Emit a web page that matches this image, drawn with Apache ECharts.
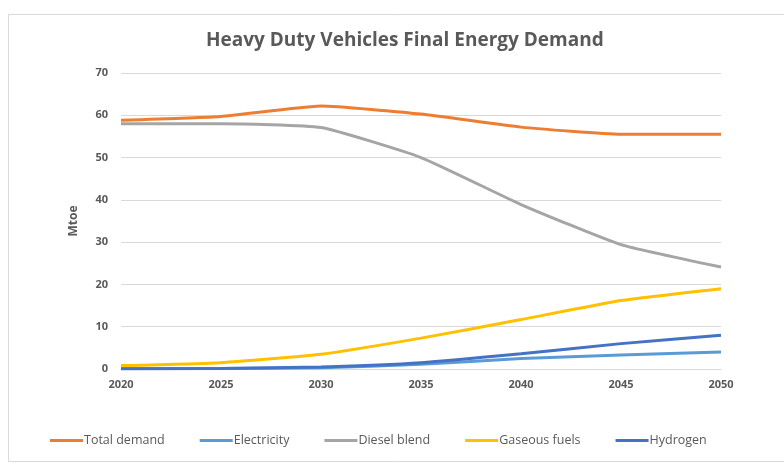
<!DOCTYPE html>
<html>
<head>
<meta charset="utf-8">
<script src="https://cdn.jsdelivr.net/npm/echarts@6/dist/echarts.min.js"></script>
<style>html,body{margin:0;padding:0;background:#fff;}#c{width:784px;height:464px;}</style>
</head>
<body>
<div id="c"></div>
<script>
const years = ['2020','2025','2030','2035','2040','2045','2050'];
const totalDemand = [58.8, 59.7, 62.2, 60.3, 57.2, 55.5, 55.5];
const electricity = [0.1, 0.1, 0.3, 1.1, 2.5, 3.3, 4.0];
const dieselBlend = [58.0, 58.0, 57.1, 50.0, 38.9, 29.4, 24.1];
const gaseousFuels = [0.8, 1.5, 3.5, 7.3, 11.7, 16.2, 19.0];
const hydrogen = [0.0, 0.1, 0.5, 1.5, 3.6, 6.0, 8.0];
const yTicks = [0, 10, 20, 30, 40, 50, 60, 70];

const seriesDefs = [
  ['Total demand', totalDemand, '#ED7D31'],
  ['Electricity', electricity, '#5B9BD5'],
  ['Diesel blend', dieselBlend, '#A5A5A5'],
  ['Gaseous fuels', gaseousFuels, '#FFC000'],
  ['Hydrogen', hydrogen, '#4472C4']
];

const chart = echarts.init(document.getElementById('c'), null, {renderer: 'canvas'});
const font = '"Open Sans", "Noto Sans", sans-serif';
chart.setOption({
  animation: false,
  backgroundColor: '#fff',
  textStyle: {fontFamily: font},
  graphic: [{
    type: 'rect', left: 6, top: 12, shape: {width: 800, height: 447},
    style: {fill: 'none', stroke: '#d9d9d9', lineWidth: 1}, silent: true
  }],
  title: {
    text: 'Heavy Duty Vehicles Final Energy Demand',
    left: 201, top: 26,
    textStyle: {fontFamily: font, fontSize: 19, fontWeight: 'bold', color: '#595959'}
  },
  legend: {
    bottom: 12, left: 45,
    itemWidth: 33, itemHeight: 3, itemGap: 35,
    icon: 'rect',
    textStyle: {fontFamily: font, fontSize: 12.5, color: '#595959', padding: [0,0,0,-4]},
    data: seriesDefs.map(s => s[0])
  },
  grid: {left: 121, right: 63, top: 73, bottom: 95},
  xAxis: {
    type: 'category', data: years, boundaryGap: false,
    axisLine: {show: true, lineStyle: {color: '#d9d9d9', width: 1}},
    axisTick: {show: false},
    axisLabel: {fontFamily: font, fontSize: 11, fontWeight: 'bold', color: '#595959', margin: 10}
  },
  yAxis: {
    type: 'value', min: yTicks[0], max: yTicks[yTicks.length-1], interval: 10,
    name: 'Mtoe', nameLocation: 'middle', nameGap: 41, nameRotate: 90,
    nameTextStyle: {fontFamily: font, fontSize: 12, fontWeight: 'bold', color: '#595959'},
    axisLine: {show: false}, axisTick: {show: false},
    splitLine: {lineStyle: {color: '#d9d9d9', width: 1}},
    axisLabel: {fontFamily: font, fontSize: 11, fontWeight: 'bold', color: '#595959', margin: 13}
  },
  series: seriesDefs.map(s => ({
    name: s[0], type: 'line', data: s[1], showSymbol: false, symbol: 'none',
    smooth: 0.15,
    lineStyle: {color: s[2], width: 3}, itemStyle: {color: s[2]}
  }))
});
</script>
</body>
</html>
